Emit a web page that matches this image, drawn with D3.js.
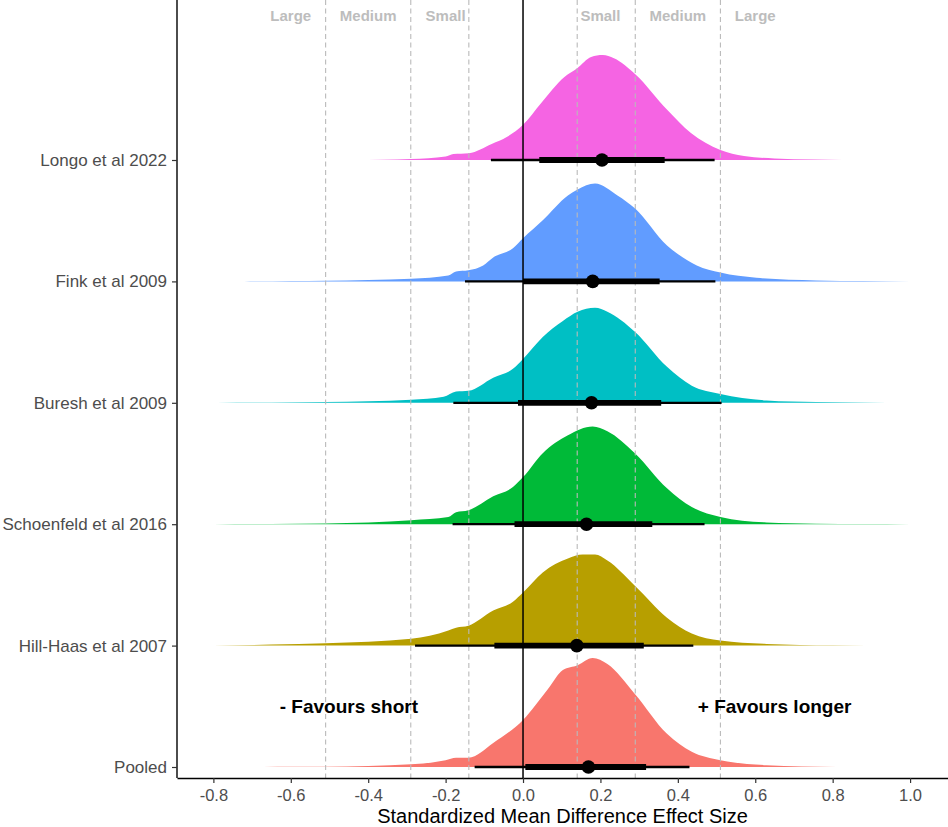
<!DOCTYPE html>
<html>
<head>
<meta charset="utf-8">
<script src="https://cdn.jsdelivr.net/npm/d3@7"></script>
<style>
  body { margin: 0; background: #fff; }
  text { font-family: "Liberation Sans", Arial, sans-serif; }
</style>
</head>
<body>
<svg id="chart"></svg>
<script>
let width = 948;
let height = 827;

// rows, top to bottom
let studies = ['Longo et al 2022', 'Fink et al 2009', 'Buresh et al 2009',
               'Schoenfeld et al 2016', 'Hill-Haas et al 2007', 'Pooled'];
let colors = ['#F564E3', '#619CFF', '#00BFC4', '#00BA38', '#B79F00', '#F8766D'];

// point estimate and intervals (inner = thick, outer = thin)
let pointEst = [0.204, 0.180, 0.177, 0.164, 0.139, 0.169];
let innerLo  = [0.042, 0.000, -0.013, -0.022, -0.074, 0.006];
let innerHi  = [0.366, 0.353, 0.357, 0.334, 0.312, 0.318];
let outerLo  = [-0.083, -0.150, -0.180, -0.182, -0.279, -0.125];
let outerHi  = [0.495, 0.497, 0.513, 0.469, 0.440, 0.430];

// posterior densities: [effect size, density]
let densLongo = [[-0.44,0],[-0.36,0.008],[-0.289,0.025],[-0.2,0.09],[-0.18,0.15],[-0.14,0.17],
  [-0.081,0.4],[-0.041,0.58],[0,0.88],[0.047,1.43],[0.107,2.08],[0.14,2.3],[0.176,2.58],
  [0.206,2.63],[0.235,2.55],[0.29,2.15],[0.373,1.25],[0.433,0.68],[0.51,0.25],[0.571,0.1],
  [0.65,0.04],[0.75,0.015],[0.9,0]];
let densFink = [[-0.72,0],[-0.6,0.008],[-0.51,0.018],[-0.289,0.068],[-0.193,0.15],[-0.173,0.25],
  [-0.141,0.28],[-0.103,0.4],[-0.077,0.6],[-0.026,0.83],[0,1.08],[0.051,1.53],[0.116,2.15],
  [0.141,2.3],[0.186,2.45],[0.244,2.15],[0.289,1.83],[0.372,0.9],[0.398,0.7],[0.449,0.4],
  [0.51,0.22],[0.603,0.09],[0.757,0.025],[0.88,0.008],[1.0,0]];
let densBuresh = [[-0.79,0],[-0.65,0.008],[-0.51,0.018],[-0.289,0.075],[-0.205,0.15],[-0.173,0.28],
  [-0.141,0.3],[-0.077,0.63],[-0.026,0.85],[0,1.1],[0.051,1.65],[0.103,2.05],[0.141,2.28],
  [0.186,2.38],[0.218,2.28],[0.289,1.78],[0.372,0.9],[0.436,0.43],[0.51,0.22],[0.629,0.058],
  [0.757,0.018],[0.88,0.006],[1.0,0]];
let densSchoenfeld = [[-0.8,0],[-0.65,0.008],[-0.51,0.018],[-0.289,0.1],[-0.193,0.18],[-0.173,0.3],
  [-0.141,0.35],[-0.077,0.7],[-0.026,0.93],[0,1.18],[0.051,1.78],[0.116,2.23],[0.18,2.45],
  [0.218,2.33],[0.289,1.78],[0.372,0.9],[0.436,0.43],[0.51,0.18],[0.629,0.043],[0.757,0.013],
  [0.88,0.005],[1.0,0]];
let densHillHaas = [[-0.8,0],[-0.65,0.025],[-0.51,0.058],[-0.289,0.17],[-0.193,0.38],[-0.173,0.45],
  [-0.141,0.5],[-0.077,0.88],[-0.026,1.1],[0,1.33],[0.051,1.83],[0.116,2.18],[0.154,2.28],
  [0.186,2.28],[0.218,2.13],[0.289,1.5],[0.372,0.7],[0.436,0.3],[0.51,0.125],[0.629,0.043],
  [0.8,0.01],[0.976,0]];
let densPooled = [[-0.67,0],[-0.6,0.004],[-0.51,0.008],[-0.289,0.068],[-0.2,0.17],[-0.173,0.23],
  [-0.141,0.23],[-0.077,0.6],[0,1.18],[0.064,1.95],[0.103,2.43],[0.141,2.55],[0.18,2.73],
  [0.218,2.58],[0.289,1.83],[0.372,0.83],[0.436,0.38],[0.51,0.17],[0.629,0.043],[0.72,0.012],
  [0.81,0]];
let densities = [densLongo, densFink, densBuresh, densSchoenfeld, densHillHaas, densPooled];

// effect size thresholds and labels
let thresholds = [-0.51, -0.29, -0.14, 0.14, 0.29, 0.51];
let sizeLabels = ['Large', 'Medium', 'Small', 'Small', 'Medium', 'Large'];
let sizeLabelPos = [-0.6, -0.4, -0.2, 0.2, 0.4, 0.6];
let xTicks = [-0.8, -0.6, -0.4, -0.2, 0.0, 0.2, 0.4, 0.6, 0.8, 1.0];

let plotLeft = 177, plotRight = 948, plotTop = 0, plotBottom = 778;

let xScale = d3.scaleLinear()
               .domain([-0.894, 1.098])
               .range([plotLeft, plotRight]);

let yScale = d3.scalePoint()
               .domain(studies)
               .range([160, 767]);

let step = yScale.step();

let densScale = d3.scaleLinear()
                  .domain([0, d3.max(densities.flat(), d => d[1])])
                  .range([0, 109]);

let svg = d3.select('#chart')
    .attr('width', width)
    .attr('height', height);

let area = d3.area()
    .x(d => xScale(d[0]))
    .y0(0)
    .y1(d => -densScale(d[1]))
    .curve(d3.curveMonotoneX);

// densities
svg.append('g')
  .selectAll('path')
  .data(studies)
  .enter()
  .append('path')
    .attr('transform', d => `translate(0,${yScale(d)})`)
    .attr('d', (d, i) => area(densities[i]))
    .attr('fill', (d, i) => colors[i]);

// threshold lines
svg.append('g')
  .selectAll('line')
  .data(thresholds)
  .enter()
  .append('line')
    .attr('x1', d => xScale(d))
    .attr('x2', d => xScale(d))
    .attr('y1', plotTop)
    .attr('y2', plotBottom)
    .attr('stroke', '#bababa')
    .attr('stroke-width', 1.1)
    .attr('stroke-dasharray', '5,3.5');

// zero line
svg.append('line')
    .attr('x1', xScale(0))
    .attr('x2', xScale(0))
    .attr('y1', plotTop)
    .attr('y2', plotBottom)
    .attr('stroke', '#000')
    .attr('stroke-width', 1.5);

// intervals
let intervals = svg.append('g')
  .selectAll('g')
  .data(studies)
  .enter()
  .append('g')
    .attr('transform', d => `translate(0,${yScale(d)})`);

intervals.append('line')
    .attr('x1', (d, i) => xScale(outerLo[i]))
    .attr('x2', (d, i) => xScale(outerHi[i]))
    .attr('stroke', '#000')
    .attr('stroke-width', 2.3);

intervals.append('line')
    .attr('x1', (d, i) => xScale(innerLo[i]))
    .attr('x2', (d, i) => xScale(innerHi[i]))
    .attr('stroke', '#000')
    .attr('stroke-width', 5.8);

intervals.append('circle')
    .attr('cx', (d, i) => xScale(pointEst[i]))
    .attr('r', 6.8)
    .attr('fill', '#000');

// effect size labels along the top
svg.append('g')
  .selectAll('text')
  .data(sizeLabels)
  .enter()
  .append('text')
    .attr('x', (d, i) => xScale(sizeLabelPos[i]))
    .attr('y', yScale(studies[0]) - 1.19 * step)
    .attr('dy', '0.36em')
    .attr('text-anchor', 'middle')
    .attr('font-size', 15)
    .attr('font-weight', 'bold')
    .attr('fill', '#bdbdbd')
    .text(d => d);

// direction annotations
let midY = (yScale(studies[4]) + yScale(studies[5])) / 2;
svg.append('text')
    .attr('x', xScale(-0.45))
    .attr('y', midY)
    .attr('dy', '0.36em')
    .attr('text-anchor', 'middle')
    .attr('font-size', 19)
    .attr('font-weight', 'bold')
    .text('- Favours short');
svg.append('text')
    .attr('x', xScale(0.65))
    .attr('y', midY)
    .attr('dy', '0.36em')
    .attr('text-anchor', 'middle')
    .attr('font-size', 19)
    .attr('font-weight', 'bold')
    .text('+ Favours longer');

// axes
let xAxis = svg.append('g')
    .attr('transform', `translate(0,${plotBottom})`)
    .call(d3.axisBottom(xScale)
            .tickValues(xTicks)
            .tickFormat(d => d.toFixed(1))
            .tickSize(5)
            .tickSizeOuter(0)
            .tickPadding(6));
xAxis.select('.domain').attr('stroke', '#000').attr('stroke-width', 1.4);
xAxis.selectAll('.tick line').attr('stroke', '#333').attr('stroke-width', 1.2);
xAxis.selectAll('.tick text')
    .attr('font-size', 16.5)
    .attr('fill', '#4d4d4d')
    .style('font-family', '"Liberation Sans", Arial, sans-serif');

let yAxis = svg.append('g')
    .attr('transform', `translate(${plotLeft},0)`)
    .call(d3.axisLeft(yScale)
            .tickSize(5)
            .tickSizeOuter(0)
            .tickPadding(5));
yAxis.select('.domain')
    .attr('d', `M0,${plotTop}V${plotBottom}`)
    .attr('stroke', '#000')
    .attr('stroke-width', 1.4);
yAxis.selectAll('.tick line').attr('stroke', '#333').attr('stroke-width', 1.2);
yAxis.selectAll('.tick text')
    .attr('font-size', 17)
    .attr('fill', '#4d4d4d')
    .style('font-family', '"Liberation Sans", Arial, sans-serif');

// axis title
svg.append('text')
    .attr('x', (plotLeft + plotRight) / 2)
    .attr('y', 822.5)
    .attr('text-anchor', 'middle')
    .attr('font-size', 20)
    .attr('fill', '#000')
    .text('Standardized Mean Difference Effect Size');
</script>
</body>
</html>
